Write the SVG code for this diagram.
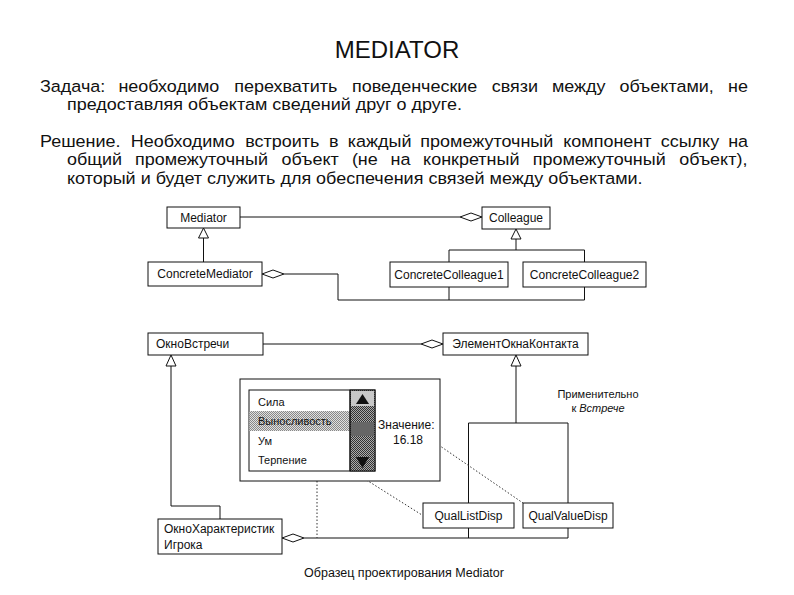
<svg xmlns="http://www.w3.org/2000/svg" width="794" height="595" viewBox="0 0 794 595">
<style>
.body{font-family:"Liberation Sans",Arial,sans-serif;font-size:16.5px;fill:#111}
.title{font-family:"Liberation Sans",Arial,sans-serif;font-size:24px;fill:#111}
.lbl{font-family:"Liberation Sans",Arial,sans-serif;font-size:12px;fill:#111}
.sm{font-family:"Liberation Sans",Arial,sans-serif;font-size:11px;fill:#111}
.box{fill:#fff;stroke:#111;stroke-width:1}
.ln{fill:none;stroke:#111;stroke-width:1}
.dia{fill:#fff;stroke:#111;stroke-width:1}
.dot{fill:none;stroke:#333;stroke-width:1;stroke-dasharray:1.5 2}
.mid{text-anchor:middle}
</style>
<defs>
<pattern id="light" width="2" height="2" patternUnits="userSpaceOnUse"><rect width="2" height="2" fill="#e0e0e0"/><rect width="1" height="1" fill="#888"/><rect x="1" y="1" width="1" height="1" fill="#888"/></pattern>
<pattern id="dark" width="2" height="2" patternUnits="userSpaceOnUse"><rect width="2" height="2" fill="#aaa"/><rect width="1" height="1" fill="#333"/><rect x="1" y="1" width="1" height="1" fill="#333"/></pattern>
</defs>
<rect width="794" height="595" fill="#fff"/>

<g id="header">
<text class="title mid" x="397" y="58">MEDIATOR</text>
<g transform="scale(1.09 1)">
<text class="body" y="92"><tspan x="36.70">Задача:</tspan><tspan x="108.62">необходимо</tspan><tspan x="214.86">перехватить</tspan><tspan x="322.94">поведенческие</tspan><tspan x="451.10">связи</tspan><tspan x="506.33">между</tspan><tspan x="568.26">объектами,</tspan><tspan x="667.98">не</tspan></text>
<text class="body" x="61.47" y="110.5">предоставляя объектам сведений друг о друге.</text>
<text class="body" y="147"><tspan x="36.70">Решение.</tspan><tspan x="119.91">Необходимо</tspan><tspan x="224.95">встроить</tspan><tspan x="301.74">в</tspan><tspan x="318.99">каждый</tspan><tspan x="385.60">промежуточный</tspan><tspan x="516.79">компонент</tspan><tspan x="606.15">ссылку</tspan><tspan x="668.07">на</tspan></text>
<text class="body" y="165.5"><tspan x="61.47">общий</tspan><tspan x="123.85">промежуточный</tspan><tspan x="258.26">объект</tspan><tspan x="322.84">(не</tspan><tspan x="358.26">на</tspan><tspan x="388.17">конкретный</tspan><tspan x="488.72">промежуточный</tspan><tspan x="623.12">объект),</tspan></text>
<text class="body" x="61.47" y="184">который и будет служить для обеспечения связей между объектами.</text>
</g>
</g>

<g id="connectors">
<line class="ln" x1="240" y1="217" x2="460" y2="217"/>
<polygon class="dia" points="460,217 471,213 482,217 471,221"/>
<polygon class="dia" points="203.5,228 198.5,238 208.5,238"/>
<line class="ln" x1="203.5" y1="238" x2="203.5" y2="262"/>
<polygon class="dia" points="516,229 511,239 521,239"/>
<path class="ln" d="M516,239 V250 M449,262 V250 H584.5 V262"/>
<polygon class="dia" points="262,274 273,270 284,274 273,278"/>
<path class="ln" d="M284,274 H338 V300 H584.5 V287 M449,300 V287"/>
<line class="ln" x1="263" y1="344" x2="421" y2="344"/>
<polygon class="dia" points="421,344 432,340 443,344 432,348"/>
<polygon class="dia" points="516,355 511,366 521,366"/>
<path class="ln" d="M516,366 V423 M468.5,503 V423 H568 V503"/>
<polygon class="dia" points="171,355 166,366 176,366"/>
<path class="ln" d="M171,366 V506 H220 V519"/>
<polygon class="dia" points="282,538 293,534 304,538 293,542"/>
<path class="ln" d="M304,538 H568 V528 M468.5,528 V538"/>
<line class="dot" x1="317" y1="481" x2="317" y2="538"/>
<line class="dot" x1="322" y1="452" x2="422" y2="515"/>
<line class="dot" x1="427" y1="437" x2="523" y2="503"/>
</g>

<g id="mediator"><rect class="box" x="167" y="207" width="73" height="21"/><text class="lbl mid" x="203.5" y="222">Mediator</text></g>
<g id="colleague"><rect class="box" x="482" y="207" width="68" height="22"/><text class="lbl mid" x="516" y="222">Colleague</text></g>
<g id="concrete-mediator"><rect class="box" x="148" y="262" width="114" height="24"/><text class="lbl mid" x="205" y="278">ConcreteMediator</text></g>
<g id="concrete-colleague1"><rect class="box" x="390" y="262" width="118" height="25"/><text class="lbl mid" x="449" y="279">ConcreteColleague1</text></g>
<g id="concrete-colleague2"><rect class="box" x="523" y="262" width="123" height="25"/><text class="lbl mid" x="584.5" y="279">ConcreteColleague2</text></g>

<g id="okno-vstrechi"><rect class="box" x="148" y="333" width="115" height="22"/><text class="lbl" x="156" y="348">ОкноВстречи</text></g>
<g id="element-okna-kontakta"><rect class="box" x="443" y="333" width="145" height="22"/><text class="lbl mid" x="515.5" y="348">ЭлементОкнаКонтакта</text></g>

<g id="dialog">
<rect class="box" x="240" y="379" width="200" height="102"/>
<rect class="box" x="249" y="390" width="126" height="81"/>
<rect x="249.5" y="411" width="100.5" height="20" fill="url(#light)"/>
<rect x="350" y="390" width="25" height="81" fill="url(#dark)" stroke="#111"/>
<rect x="351" y="391" width="23" height="15" fill="#c8c8c8"/>
<polygon points="362.5,394 356,404 369,404" fill="#111"/>
<rect x="351" y="422" width="23" height="14" fill="#666"/>
<polygon points="362.5,468 356,457 369,457" fill="#111"/>
<line class="ln" x1="350" y1="390" x2="350" y2="471"/>
<text class="sm" x="258" y="406">Сила</text>
<text class="sm" x="258" y="425">Выносливость</text>
<text class="sm" x="258" y="445">Ум</text>
<text class="sm" x="258" y="464">Терпение</text>
<text class="lbl" x="378" y="429">Значение:</text>
<text class="lbl" x="393" y="444">16.18</text>
</g>

<g id="applicability"><text class="sm mid" x="598" y="398">Применительно</text><text class="sm mid" x="598" y="412">к <tspan font-style="italic">Встрече</tspan></text></g>

<g id="qual-list-disp"><rect class="box" x="423" y="503" width="91" height="25"/><text class="lbl mid" x="468.5" y="520">QualListDisp</text></g>
<g id="qual-value-disp"><rect class="box" x="523" y="503" width="90" height="25"/><text class="lbl mid" x="568" y="520">QualValueDisp</text></g>
<g id="okno-harakteristik"><rect class="box" x="158" y="519" width="124" height="35"/><text class="lbl" x="164" y="533">ОкноХарактеристик</text><text class="lbl" x="164" y="549">Игрока</text></g>

<g id="caption"><text class="lbl mid" x="404" y="577" style="font-size:12.5px">Образец проектирования Mediator</text></g>
</svg>
